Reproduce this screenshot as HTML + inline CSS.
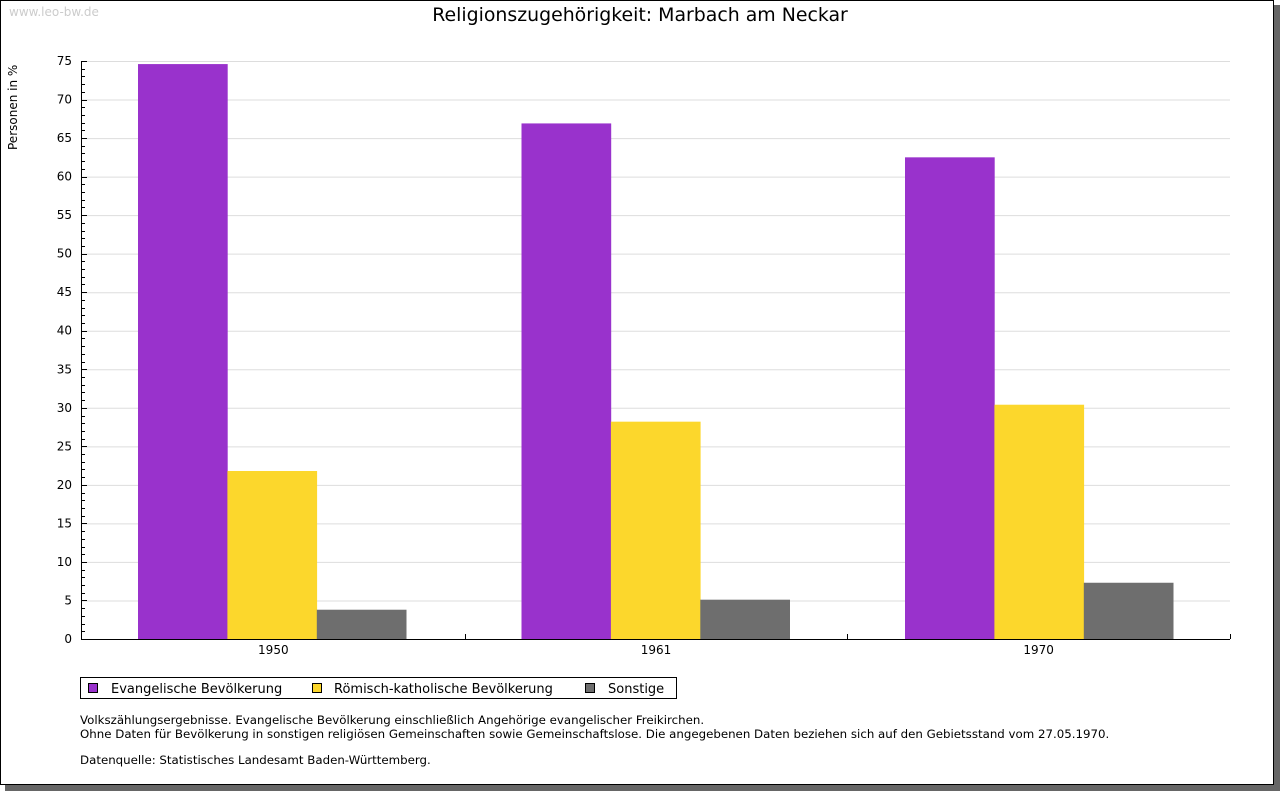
<!DOCTYPE html>
<html><head><meta charset="utf-8"><style>
body{margin:0;background:#fff;}
svg{display:block;font-family:"DejaVu Sans","Liberation Sans",sans-serif;}
</style></head><body>
<svg id="chart" width="1280" height="791">
<rect x="5" y="5" width="1275" height="786" fill="#666"/>
<rect x="0.5" y="0.5" width="1273" height="784" fill="#fff" stroke="#000"/>
<text x="9" y="16" font-size="12" fill="#ccc">www.leo-bw.de</text>
<text x="640" y="21" font-size="18.9" text-anchor="middle" fill="#000">Religionszugehörigkeit: Marbach am Neckar</text>
<text transform="translate(17,150) rotate(-90)" font-size="12">Personen in %</text>
<g id="grid"></g><g id="bars"></g><g id="axes"></g>
<g>
<rect x="80.5" y="677.5" width="596" height="21" fill="#fff" stroke="#000"/>
<rect x="88.5" y="683.5" width="9" height="9" fill="#9932cc" stroke="#000"/>
<text x="111" y="693" font-size="13">Evangelische Bevölkerung</text>
<rect x="312.5" y="683.5" width="9" height="9" fill="#fcd72c" stroke="#000"/>
<text x="334" y="693" font-size="13">Römisch-katholische Bevölkerung</text>
<rect x="585.5" y="683.5" width="9" height="9" fill="#6e6e6e" stroke="#000"/>
<text x="608" y="693" font-size="13">Sonstige</text>
</g>
<g font-size="11.8">
<text x="80" y="724">Volkszählungsergebnisse. Evangelische Bevölkerung einschließlich Angehörige evangelischer Freikirchen.</text>
<text x="80" y="738">Ohne Daten für Bevölkerung in sonstigen religiösen Gemeinschaften sowie Gemeinschaftslose. Die angegebenen Daten beziehen sich auf den Gebietsstand vom 27.05.1970.</text>
<text x="80" y="764">Datenquelle: Statistisches Landesamt Baden-Württemberg.</text>
</g>
</svg>
<script>
const categories=["1950","1961","1970"];
const evangelisch=[74.6,66.9,62.5];
const katholisch=[21.8,28.2,30.4];
const sonstige=[3.8,5.1,7.3];
const yTicks=[0,5,10,15,20,25,30,35,40,45,50,55,60,65,70,75];
const NS="http://www.w3.org/2000/svg";
const X0=82,X1=1230,Y0=639,Y1=61,YMAX=75;
const y=v=>Y0-(v/YMAX)*(Y0-Y1);
const gw=(X1-X0)/categories.length;
function mk(tag,attrs,parent){const e=document.createElementNS(NS,tag);for(const k in attrs)e.setAttribute(k,attrs[k]);document.getElementById(parent).appendChild(e);return e;}
yTicks.forEach(t=>{
 if(t>0){const l=mk('line',{x1:X0,x2:X1,y1:y(t)+0.5,y2:y(t)+0.5,stroke:'#ddd'},'grid');
 
 }
 const tk=mk('line',{x1:X0-1,x2:X0+5,y1:Math.round(y(t))+0.5,y2:Math.round(y(t))+0.5,stroke:'#000'},'axes');
 
 
 const tx=mk('text',{x:72,y:y(t)+4,'font-size':12,'text-anchor':'end'},'axes');tx.textContent=t;
 
 
});
for(let v=1;v<YMAX;v++){if(v%5)mk('line',{x1:X0,x2:X0+3,y1:Math.round(y(v))+0.5,y2:Math.round(y(v))+0.5,stroke:'#000'},'axes');}
const series=[[evangelisch,'#9932cc','bar-evangelisch'],[katholisch,'#fcd72c','bar-katholisch'],[sonstige,'#6e6e6e','bar-sonstige']];
const bw=89.4;
categories.forEach((c,i)=>{
 const start=138+i*383.5;
 series.forEach((s,j)=>{
  const r=mk('rect',{x:start+j*bw,y:y(s[0][i]),width:bw+0.3,height:Y0-y(s[0][i]),fill:s[1]},'bars');
  
  
 });
 const tx=mk('text',{x:X0+(i+0.5)*gw,y:654,'font-size':12,'text-anchor':'middle'},'axes');tx.textContent=c;
 
 
 const tk=mk('line',{x1:Math.round(X0+(i+1)*gw)+0.5,x2:Math.round(X0+(i+1)*gw)+0.5,y1:Y0-5,y2:Y0,stroke:'#000'},'axes');
 
 
});
const ya=mk('line',{x1:X0-0.5,x2:X0-0.5,y1:Y1,y2:Y0+1,stroke:'#000'},'axes');


const xa=mk('line',{x1:X0-1,x2:X1,y1:Y0+0.5,y2:Y0+0.5,stroke:'#000'},'axes');


</script>
</body></html>
